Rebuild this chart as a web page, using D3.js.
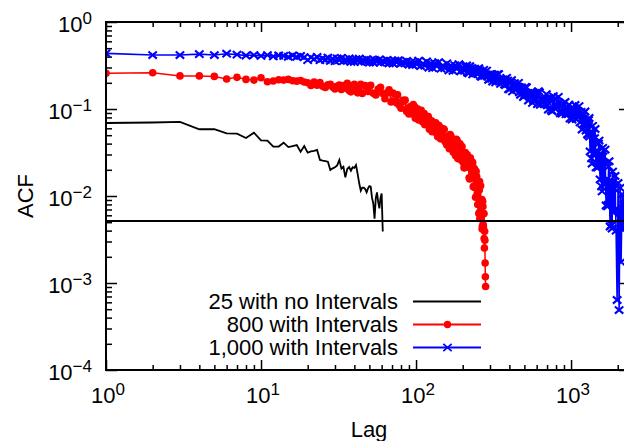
<!DOCTYPE html>
<html>
<head>
<meta charset="utf-8">
<script src="https://cdn.jsdelivr.net/npm/d3@7"></script>
<style>
  body { margin: 0; background: #fff; }
  text { font-family: "Liberation Sans", Arial, Helvetica, sans-serif; fill: #000; }
</style>
</head>
<body>
<div id="main"></div>
<script>
"use strict";

// ---- data ----
var blackLag = [1,2,3,4,5,6,7,8,9,10,11,12,13,14,15,16,17,18,19,20,
  21,22,23,24,25,26,27,28,29,30,31,32,33,34,35,36,37,38,39,40,
  41,42,43,44,45,46,47,48,49,50,51,52,53,54,55,56,57,58,59,60,61];
var blackAcf = [0.069,0.070,0.071,0.0585,0.0585,0.0525,0.052,0.0464,0.0535,0.0437,
  0.0433,0.0369,0.037,0.041,0.0365,0.0375,0.0385,0.0323,0.0375,0.0315,
  0.0325,0.033,0.0338,0.026,0.0255,0.0252,0.0248,0.0199,0.0208,0.0214,
  0.0225,0.026,0.0207,0.0217,0.0164,0.0205,0.0215,0.0195,0.0214,0.021,
  0.0227,0.018,0.014,0.0115,0.0125,0.0125,0.012,0.011,0.0122,0.013,
  0.0128,0.0095,0.0082,0.0055,0.0095,0.011,0.0085,0.0072,0.0095,0.0107,0.0039];

var redLag = [1,2,3,4,5,6,7,8,9,10,11,12,13,14,15,16,17,18,19,20,
  21,22,23,24,25,26,27,28,29,30,31,32,33,34,35,36,37,38,39,40,41,42,43,44,45,
  47,49,51,53,55,57,59,61,63,65,67,69,71,73,75,76,78,80,82,83,
  85,87,88,90,92,93,95,96,98,99,101,102,104,105,107,108,110,111,113,114,
  116,117,119,120,122,124,126,127,129,131,133,134,136,138,140,142,144,146,148,150,
  152,154,156,158,160,162,164,166,168,170,172,174,176,178,180,182,184,186,188,190,
  192,194,196,198,200,202,204,206,208,210,212,214,216,218,220,222,224,226,228,230,
  232,234,236,238,240,241,242,244,246,247,248,250,252,253,254,256,257,258,259,260,
  261,262,263,264,265,266,267,268,269,270,271,272,273,274,275,276,277,278,279,280,281];
var redAcf = [0.257,0.261,0.240,0.240,0.237,0.221,0.231,0.219,0.215,0.229,
  0.206,0.210,0.217,0.215,0.219,0.211,0.209,0.213,0.204,0.200,
  0.1860,0.2039,0.1881,0.2017,0.1820,0.1772,0.1902,0.1928,0.1794,0.1698,
  0.1823,0.1890,0.1679,0.1856,0.1742,0.1974,0.1636,0.1575,0.1846,0.1927,
  0.1690,0.1533,0.1790,0.1929,0.1511,
  0.1857,0.1591,0.1870,0.1519,0.1448,0.1697,0.1773,0.1507,0.1313,0.1531,
  0.1658,0.1205,0.1528,0.1238,0.1175,0.1459,0.1103,0.1021,0.1258,0.1219,
  0.1264,0.0939,0.1022,0.0876,0.1069,0.1040,0.0878,0.1123,0.1062,0.0785,
  0.0857,0.1008,0.0747,0.0800,0.0900,0.0964,0.0713,0.0717,0.0889,0.0658,
  0.0696,0.0794,0.0789,0.0818,0.0586,0.0650,0.0731,0.0548,0.0560,0.0643,
  0.0679,0.0694,0.0523,0.0479,0.0649,0.0623,0.0454,0.0479,0.0552,0.0593,
  0.0582,0.0424,0.0409,0.0385,0.0481,0.0485,0.0350,0.0508,0.0489,0.0391,
  0.0375,0.0318,0.0435,0.0399,0.0290,0.0449,0.0438,0.0269,0.0295,0.0388,
  0.0398,0.0281,0.0257,0.0370,0.0319,0.0241,0.0211,0.0211,0.0315,0.0284,
  0.0225,0.0298,0.0268,0.0214,0.0162,0.0157,0.0275,0.0215,0.0164,0.0247,
  0.0240,0.0128,0.0128,0.0207,0.0170,0.0124,0.00969,0.0192,0.0168,0.0097,
  0.0106,0.0080,0.0140,0.0116,0.00631,0.0117,0.0147,0.0055,0.0084,0.00676,
  0.0131,0.00605,0.00560,0.00813,0.00870,0.00912,0.00417,0.00447,0.00871,0.00759,
  0.0047,0.00441,0.00625,0.00628,0.00325,0.00252,0.00394,0.0031,0.0017,0.00118,0.00091];

var blueLag = [1,2,3,4,5,6,7,8,9,10,11,12,13,14,15,16,17,18,19,20,
  21,22,23,24,25,26,27,28,29,30,31,32,33,34,35,36,37,38,39,40,41,42,43,44,45,
  47,48,50,51,53,54,56,58,59,61,63,65,67,69,71,73,75,77,80,82,
  85,87,90,93,95,98,101,104,107,111,114,117,121,125,128,132,136,140,145,149,
  153,158,163,168,173,178,183,189,194,
  200,203,206,209,212,215,219,222,225,228,232,235,239,242,246,250,254,257,261,265,
  269,273,277,281,285,289,294,298,303,307,312,316,321,326,331,336,341,346,351,356,
  362,367,372,378,384,390,395,401,407,413,419,426,432,438,445,451,458,465,472,479,
  486,493,501,508,516,523,531,539,547,555,564,572,581,589,598,607,616,625,634,643,
  653,663,673,683,693,703,714,724,735,746,757,768,780,792,804,816,828,840,853,864,
  875,888,901,915,928,942,956,971,985,1000,1015,1030,1046,1061,1077,1093,1110,1126,1143,
  1160,1178,1195,1213,1231,
  1250,1259,1269,1278,1288,1297,1307,1317,1327,1337,1346,1356,1367,1377,1387,1397,1408,1418,1429,1439,
  1450,1461,1472,1483,1494,1505,1516,1527,1539,1550,1562,1574,1586,1598,1609,1621,1633,1646,1658,1670,
  1683,1695,1708,1720,1733,1746,1759,1772,1786,1799,1812,1826,1840,1853,1867,1881,1895,1909,1923,1937,
  1952,1982,2011,2041,2072,2103,2134,2166,2199,2232,2265];
var blueAcf = [0.436,0.417,0.417,0.427,0.417,0.432,0.422,0.412,0.417,0.407,
  0.417,0.403,0.412,0.407,0.398,0.412,0.398,0.407,0.394,
  0.365,0.392,0.3745,0.3964,0.3639,0.3798,0.3667,0.390,0.3565,0.3795,0.3548,
  0.3811,0.3646,0.3863,0.3549,0.3707,0.3583,0.3814,0.3489,0.3715,0.3475,
  0.3735,0.3576,0.3791,0.3485,0.3641,
  0.3516,0.3745,0.3421,0.3644,0.3407,0.3662,0.3504,0.3711,0.3412,0.3565,
  0.3443,0.3664,0.3350,0.3565,0.3334,0.3584,0.3432,0.3638,0.3334,0.3479,
  0.3346,0.3568,0.3230,0.3452,0.3204,0.3462,
  0.3263,0.3602,0.3108,0.3347,0.3146,0.3521,0.2983,0.3341,0.2952,0.3361,
  0.3089,0.3454,0.2913,0.3172,0.2952,0.3345,0.2775,0.3154,0.2739,0.3175,
  0.2894,0.3272,0.2717,
  0.2981,0.2773,0.2762,0.3046,0.3167,0.2617,0.2567,0.3102,0.2927,0.2789,
  0.2494,0.2663,0.2907,0.2796,0.2599,0.2525,0.2940,0.2772,0.2386,0.2343,
  0.2624,0.2816,0.2397,0.2508,0.2764,0.2379,0.2170,0.2502,0.2506,0.2227,
  0.2070,0.2474,0.2477,0.2025,0.2169,0.2515,0.2523,0.2193,0.1942,0.2054,
  0.2167,0.2173,0.1919,0.1888,0.2284,0.2123,0.1688,0.1680,0.2012,0.2152,
  0.1593,0.1826,0.1977,0.1698,0.1674,0.1817,0.2002,0.1553,0.1458,0.1774,
  0.1667,0.1372,0.1445,0.1798,0.1771,0.1508,0.1251,0.1391,0.1549,0.1501,
  0.1175,0.1269,0.1533,0.1493,0.1277,0.1135,0.1600,0.1554,0.1119,0.1295,
  0.1333,0.1199,0.1139,0.1323,0.1481,0.1104,0.0985,0.1332,0.1293,0.0967,
  0.0938,0.1406,0.1304,0.1132,0.1047,0.1036,0.1382,0.1167,0.0892,0.0953,
  0.0888,0.1154,0.0974,0.1204,0.0871,0.1016,0.0876,0.1121,0.0778,0.1007,
  0.0757,0.1038,0.0855,0.1112,0.0768,0.0932,0.0798,0.1080,0.0700,
  0.0929,0.0581,0.0886,0.0681,0.0936,
  0.0566,0.0677,0.0699,0.0512,0.0502,0.0744,0.0788,0.0482,0.0325,0.0547,
  0.0548,0.0270,0.0236,0.0639,0.0528,0.0306,0.0313,0.0462,0.0589,0.0317,
  0.0213,0.0312,0.0334,0.0212,0.0218,0.0401,0.0434,0.0240,0.0155,0.0290,
  0.0294,0.0129,0.0113,0.0357,0.0284,0.0138,0.0140,0.0238,0.0342,0.0141,
  0.00778,0.0140,0.0158,0.00761,0.00788,0.0218,0.0251,0.00927,0.00446,0.0135,
  0.0142,0.00466,0.00423,0.0191,0.0144,0.00641,0.00675,0.0121,0.0170,0.00706,
  0.00399,0.000638,0.0141,0.000489,0.0124,0.00174,0.0105,0.00407,0.00923,0.00502,0.00809];

var threshold = 0.00516;

var xMajor = [1, 10, 100, 1000];
var yMajor = [1e-4, 1e-3, 1e-2, 1e-1, 1];

var seriesNames = ["25 with no Intervals", "800 with Intervals", "1,000 with Intervals"];
var seriesColors = ["#000000", "#ff0000", "#0000ff"];

// ---- chart ----
var W = 624, H = 441;
var box = {l: 106, t: 22, r: 630, b: 370};

var svg = d3.select("#main").append("svg")
  .attr("width", W).attr("height", H);

var x = d3.scaleLog().domain([1, 2400]).range([box.l, box.r]);
var y = d3.scaleLog().domain([1e-4, 1]).range([box.b, box.t]);

function isPow10(v) {
  var e = Math.log10(v);
  return Math.abs(e - Math.round(e)) < 1e-6;
}
var xMinor = x.ticks().filter(function(v) { return !isPow10(v); });
var yMinor = y.ticks().filter(function(v) { return !isPow10(v); });

svg.append("defs").append("clipPath").attr("id", "plotclip")
  .append("rect")
  .attr("x", box.l).attr("y", box.t)
  .attr("width", box.r - box.l).attr("height", box.b - box.t);

// ticks on all four sides, pointing inward
function tickLayer(axis, tx, ty) {
  svg.append("g")
    .attr("transform", "translate(" + tx + "," + ty + ")")
    .call(axis.tickFormat(""))
    .call(function(g) {
      g.select(".domain").remove();
      g.selectAll(".tick line").attr("stroke", "#000").attr("stroke-width", 1.5);
    });
}
tickLayer(d3.axisBottom(x).tickValues(xMajor).tickSize(-10), 0, box.b);
tickLayer(d3.axisBottom(x).tickValues(xMinor).tickSize(-5), 0, box.b);
tickLayer(d3.axisTop(x).tickValues(xMajor).tickSize(-10), 0, box.t);
tickLayer(d3.axisTop(x).tickValues(xMinor).tickSize(-5), 0, box.t);
tickLayer(d3.axisLeft(y).tickValues(yMajor).tickSize(-11), box.l, 0);
tickLayer(d3.axisLeft(y).tickValues(yMinor).tickSize(-6), box.l, 0);
tickLayer(d3.axisRight(y).tickValues(yMajor).tickSize(-11), box.r, 0);
tickLayer(d3.axisRight(y).tickValues(yMinor).tickSize(-6), box.r, 0);

// tick labels 10^n
function powLabel(sel, v) {
  var e = Math.round(Math.log10(v));
  sel.append("tspan").text("10");
  sel.append("tspan").attr("dy", -8).attr("font-size", 17)
    .text(e < 0 ? "\u2212" + (-e) : String(e));
}
xMajor.forEach(function(v) {
  var t = svg.append("text")
    .attr("x", x(v) + 2).attr("y", 403)
    .attr("text-anchor", "middle").attr("font-size", 22);
  powLabel(t, v);
});
yMajor.forEach(function(v) {
  var t = svg.append("text")
    .attr("x", 92).attr("y", y(v) + 10)
    .attr("text-anchor", "end").attr("font-size", 22);
  powLabel(t, v);
});

svg.append("text")
  .attr("transform", "translate(33,196) rotate(-90)")
  .attr("text-anchor", "middle").attr("font-size", 22)
  .text("ACF");
svg.append("text")
  .attr("x", 369).attr("y", 437)
  .attr("text-anchor", "middle").attr("font-size", 22)
  .text("Lag");

// series
function zip(lags, vals) {
  return lags.map(function(l, i) { return {lag: l, acf: vals[i]}; });
}
var blackData = zip(blackLag, blackAcf);
var redData = zip(redLag, redAcf);
var blueData = zip(blueLag, blueAcf);

var line = d3.line()
  .x(function(d) { return x(d.lag); })
  .y(function(d) { return y(d.acf); });

var plot = svg.append("g").attr("clip-path", "url(#plotclip)");

plot.append("path").datum(blackData)
  .attr("d", line).attr("fill", "none")
  .attr("stroke", seriesColors[0]).attr("stroke-width", 1.8);

plot.append("path").datum(redData)
  .attr("d", line).attr("fill", "none")
  .attr("stroke", seriesColors[1]).attr("stroke-width", 1.5);
plot.selectAll("circle.red").data(redData).enter().append("circle")
  .attr("class", "red")
  .attr("cx", function(d) { return x(d.lag); })
  .attr("cy", function(d) { return y(d.acf); })
  .attr("r", 3.8).attr("fill", seriesColors[1]);

var cross = "M-4.2,-3.6L4.2,3.6M-4.2,3.6L4.2,-3.6";
plot.append("path").datum(blueData)
  .attr("d", line).attr("fill", "none")
  .attr("stroke", seriesColors[2]).attr("stroke-width", 1.6);
plot.selectAll("path.blue").data(blueData).enter().append("path")
  .attr("class", "blue")
  .attr("transform", function(d) { return "translate(" + x(d.lag) + "," + y(d.acf) + ")"; })
  .attr("d", cross).attr("stroke", seriesColors[2]).attr("stroke-width", 2.1);

// threshold line
plot.append("line")
  .attr("x1", box.l).attr("x2", box.r)
  .attr("y1", y(threshold)).attr("y2", y(threshold))
  .attr("stroke", "#000").attr("stroke-width", 1.8);

// frame
svg.append("rect")
  .attr("x", box.l).attr("y", box.t)
  .attr("width", box.r - box.l).attr("height", box.b - box.t)
  .attr("fill", "none").attr("stroke", "#000").attr("stroke-width", 2);

// legend
var legend = svg.append("g");
seriesNames.forEach(function(name, i) {
  var ly = 301.5 + i * 23;
  legend.append("text")
    .attr("x", 398).attr("y", ly + 7)
    .attr("text-anchor", "end").attr("font-size", 22)
    .text(name);
  legend.append("line")
    .attr("x1", 413).attr("x2", 481).attr("y1", ly).attr("y2", ly)
    .attr("stroke", seriesColors[i]).attr("stroke-width", 1.8);
  if (i === 1) {
    legend.append("circle").attr("cx", 447.5).attr("cy", ly).attr("r", 3.7)
      .attr("fill", seriesColors[i]);
  }
  if (i === 2) {
    legend.append("path").attr("transform", "translate(447.5," + ly + ")")
      .attr("d", cross).attr("stroke", seriesColors[i]).attr("stroke-width", 1.7);
  }
});
</script>
</body>
</html>
